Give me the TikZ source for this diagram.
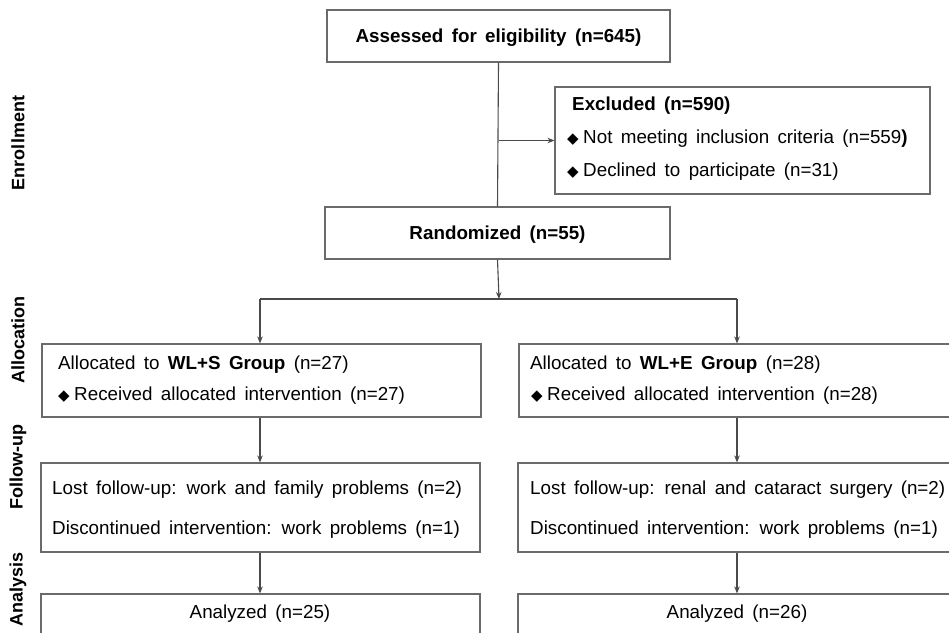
\documentclass[tikz,border=0pt]{standalone}
\usepackage{fontspec}
\setmainfont{Liberation Sans}[WordSpace=1.6]
\newfontfamily\symfont{DejaVu Sans}
\usetikzlibrary{arrows.meta}
\definecolor{linec}{HTML}{4A4A4A}
\definecolor{boxc}{HTML}{6A6A6A}
\newcommand{\dmd}{{\symfont\fontsize{15}{16}\selectfont ◆}\hspace{4.5pt}}
\tikzset{
  box/.style={draw=boxc, line width=1.1pt, rectangle, inner sep=0pt},
  txt/.style={anchor=west, inner sep=0pt, text height=13.5pt, text depth=0pt, font=\fontsize{18.8}{21}\selectfont},
  ctxt/.style={txt, anchor=center},
  bf/.style={font=\bfseries\fontsize{18.8}{21}\selectfont},
  side/.style={rotate=90, inner sep=0pt, font=\bfseries\fontsize{18}{20}\selectfont},
  conn/.style={draw=linec, line width=1.1pt},
  arr/.style={conn, -{Stealth[length=7pt,width=5.5pt]}}
}
\begin{document}
\begin{tikzpicture}[x=1pt,y=-1pt]
\useasboundingbox (0,0) rectangle (949,632);
\clip (0,0) rectangle (949,632);
% boxes
\node[box, minimum width=343pt, minimum height=52pt] (assess) at (498.5,36) {};
\node[box, minimum width=375pt, minimum height=107pt] (excl) at (742.5,140.5) {};
\node[box, minimum width=345pt, minimum height=52pt] (rand) at (497.5,233) {};
\node[box, minimum width=439pt, minimum height=73pt] (allocL) at (261.5,380.5) {};
\node[box, minimum width=439pt, minimum height=73pt] (allocR) at (738.5,380.5) {};
\node[box, minimum width=439pt, minimum height=89pt] (fuL) at (260.5,507.5) {};
\node[box, minimum width=439pt, minimum height=89pt] (fuR) at (737.5,507.5) {};
\node[box, minimum width=439pt, minimum height=80pt] (anL) at (260.5,634) {};
\node[box, minimum width=439pt, minimum height=80pt] (anR) at (737.5,634) {};
% texts
\node[ctxt, bf] (tassess) at (498.5,36) {Assessed for eligibility (n=645)};
\node[txt, bf] (texcl) at (572,104) {Excluded (n=590)};
\node[txt] (texcla) at (567,137) {\dmd Not meeting inclusion criteria (n=559\textbf{)}};
\node[txt] (texclb) at (567,170) {\dmd Declined to participate (n=31)};
\node[ctxt, bf] (trand) at (497.5,233) {Randomized (n=55)};
\node[txt] (tallocL) at (58,363) {Allocated to \textbf{WL+S Group} (n=27)};
\node[txt] (tallocLb) at (58,394) {\dmd Received allocated intervention (n=27)};
\node[txt] (tallocR) at (530,363) {Allocated to \textbf{WL+E Group} (n=28)};
\node[txt] (tallocRb) at (531,394) {\dmd Received allocated intervention (n=28)};
\node[txt] (tfuL) at (52,488) {Lost follow-up: work and family problems (n=2)};
\node[txt] (tfuLb) at (52,528) {Discontinued intervention: work problems (n=1)};
\node[txt] (tfuR) at (530,488) {Lost follow-up: renal and cataract surgery (n=2)};
\node[txt] (tfuRb) at (530,528) {Discontinued intervention: work problems (n=1)};
\node[ctxt] (tanL) at (260,612) {Analyzed (n=25)};
\node[ctxt] (tanR) at (737,612) {Analyzed (n=26)};
% side labels
\node[side] (lenr) at (18,143) {Enrollment};
\node[side] (lall) at (18,340) {Allocation};
\node[side] (lfu) at (18,467) {Follow-up};
\node[side] (lan) at (18,589) {Analysis};
% connectors
\coordinate (j1) at (assess.south |- excl.west);
\coordinate (j2) at (499,299);
\coordinate (jl) at (260,299);
\coordinate (jr) at (737,299);
\draw[conn] (assess.south) -- (rand.north);
\draw[arr] (j1) -- (excl.west);
\draw[arr] (rand.south) -- (j2);
\draw[conn] (jl) -- (jr);
\draw[arr] (jl) -- (jl |- allocL.north);
\draw[arr] (jr) -- (jr |- allocR.north);
\draw[arr] (jl |- allocL.south) -- (jl |- fuL.north);
\draw[arr] (jr |- allocR.south) -- (jr |- fuR.north);
\draw[arr] (jl |- fuL.south) -- (jl |- anL.north);
\draw[arr] (jr |- fuR.south) -- (jr |- anR.north);
\end{tikzpicture}
\end{document}
